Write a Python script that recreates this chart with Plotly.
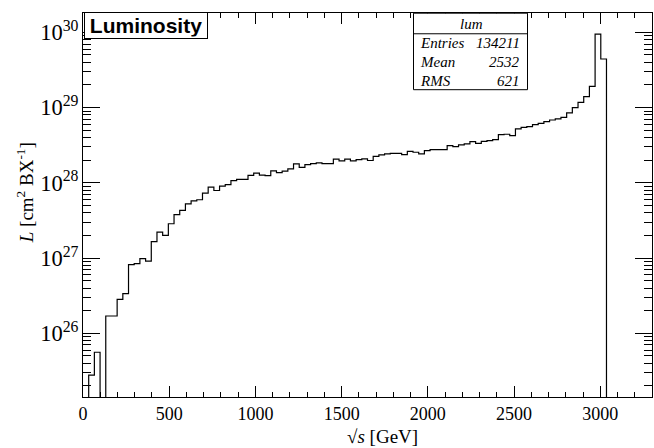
import plotly.graph_objects as go

# Histogram "lum": 100 bins of 33 GeV from 0 to 3300 GeV
bin_width = 33
n_bins = 100
lum_values = [
    0, 2.78e25, 5.61e25, 0, 1.70e26, 1.70e26, 2.83e26, 3.37e26, 8.17e26, 8.43e26,
    9.82e26, 9.12e26, 1.65e27, 2.21e27, 2.00e27, 2.86e27, 3.77e27, 4.30e27, 5.26e27, 5.77e27,
    5.96e27, 7.28e27, 8.75e27, 7.91e27, 9.02e27, 9.44e27, 1.07e28, 1.11e28, 1.11e28, 1.26e28,
    1.35e28, 1.27e28, 1.25e28, 1.44e28, 1.37e28, 1.43e28, 1.53e28, 1.79e28, 1.61e28, 1.75e28,
    1.80e28, 1.84e28, 1.80e28, 1.80e28, 2.06e28, 1.96e28, 2.06e28, 1.96e28, 2.03e28, 2.08e28,
    1.98e28, 2.25e28, 2.35e28, 2.43e28, 2.47e28, 2.47e28, 2.37e28, 2.62e28, 2.55e28, 2.43e28,
    2.68e28, 2.77e28, 2.77e28, 2.77e28, 3.13e28, 3.03e28, 3.19e28, 3.29e28, 3.53e28, 3.35e28,
    3.56e28, 3.64e28, 3.75e28, 4.37e28, 4.42e28, 4.24e28, 5.20e28, 5.46e28, 5.58e28, 5.93e28,
    6.18e28, 6.50e28, 6.84e28, 7.06e28, 7.41e28, 8.51e28, 1.00e29, 1.17e29, 1.40e29, 1.91e29,
    9.46e29, 4.42e29, 0, 0, 0, 0, 0, 0, 0, 0,
]
x_tick_vals = [0, 500, 1000, 1500, 2000, 2500, 3000]
stats_labels = ["Entries", "Mean", "RMS"]
stats_values = ["134211", "2532", "621"]
hist_name = "lum"
title_text = "Luminosity"

# empty bins are drawn down below the visible axis range (log scale)
floor_val = 1e20
edges = [i * bin_width for i in range(n_bins + 1)]
y_plot = [v if v > 0 else floor_val for v in lum_values]
y_plot = y_plot + [y_plot[-1]]

fig = go.Figure()
fig.add_trace(go.Scatter(
    x=edges, y=y_plot, mode="lines", line_shape="hv",
    line=dict(color="black", width=1.2), showlegend=False, hoverinfo="skip",
))

W, H = 654, 448
ml, mr, mt, mb = 83, 2, 12.5, 51
serif = "Liberation Serif"

fig.update_layout(
    width=W, height=H,
    margin=dict(l=ml, r=mr, t=mt, b=mb, pad=0),
    paper_bgcolor="white", plot_bgcolor="white",
    font=dict(family=serif, size=18, color="black"),
    xaxis=dict(
        range=[0, n_bins * bin_width], tickvals=x_tick_vals,
        ticks="inside", ticklen=11, tickwidth=1, tickcolor="black",
        showline=True, linecolor="black", linewidth=1, mirror="ticks",
        showgrid=False, zeroline=False,
        tickfont=dict(family=serif, size=18, color="black"),
        minor=dict(ticks="inside", ticklen=5, dtick=100, tickcolor="black", showgrid=False),
    ),
    yaxis=dict(
        type="log", range=[25.154, 30.257], dtick=1, exponentformat="power",
        ticks="inside", ticklen=17, tickwidth=1, tickcolor="black",
        showline=True, linecolor="black", linewidth=1, mirror="ticks",
        showgrid=False, zeroline=False,
        tickfont=dict(family=serif, size=18, color="black"),
        minor=dict(ticks="inside", ticklen=8, dtick="D1", tickcolor="black", showgrid=False),
    ),
)

pw = W - ml - mr
ph = H - mt - mb

def px_x(x):
    return (x - ml) / pw

def px_y(y):
    return (H - mb - y) / ph

annotations = []
# axis titles
annotations.append(dict(
    text="\u221a<i>s</i> [GeV]", x=px_x(382), y=px_y(437), xref="paper", yref="paper",
    showarrow=False, font=dict(family=serif, size=19, color="black"),
    xanchor="center", yanchor="middle",
))
annotations.append(dict(
    text="<i>L</i> [cm<sup>2</sup> BX<sup>-1</sup>]", x=px_x(25), y=px_y(193),
    xref="paper", yref="paper", showarrow=False, textangle=-90,
    font=dict(family=serif, size=19, color="black"), xanchor="center", yanchor="middle",
))
# title box
annotations.append(dict(
    text="<b>" + title_text + "</b>", x=px_x(145.5), y=px_y(25.5), xref="paper", yref="paper",
    showarrow=False, font=dict(family="Liberation Sans", size=21, color="black"),
    xanchor="center", yanchor="middle", bgcolor="white", bordercolor="black",
    borderwidth=1, width=119, height=22, borderpad=1.5,
))

shapes = []
# stats box
bx0, bx1, by0, by1 = 413.5, 527.5, 12.7, 89.3
shapes.append(dict(type="rect", xref="paper", yref="paper",
                   x0=px_x(bx0), x1=px_x(bx1), y0=px_y(by1), y1=px_y(by0),
                   line=dict(color="black", width=1), fillcolor="white", layer="above"))
shapes.append(dict(type="line", xref="paper", yref="paper",
                   x0=px_x(bx0), x1=px_x(bx1), y0=px_y(33.3), y1=px_y(33.3),
                   line=dict(color="black", width=1), layer="above"))
annotations.append(dict(
    text="<i>" + hist_name + "</i>", x=px_x(471), y=px_y(24), xref="paper", yref="paper",
    showarrow=False, font=dict(family=serif, size=15, color="black"),
    xanchor="center", yanchor="middle",
))
row_y = [43, 61.5, 80.5]
for lab, val, ry in zip(stats_labels, stats_values, row_y):
    annotations.append(dict(
        text="<i>" + lab + "</i>", x=px_x(418), y=px_y(ry), xref="paper", yref="paper",
        showarrow=False, font=dict(family=serif, size=15, color="black"),
        xanchor="left", yanchor="middle",
    ))
    annotations.append(dict(
        text="<i>" + val + "</i>", x=px_x(522), y=px_y(ry), xref="paper", yref="paper",
        showarrow=False, font=dict(family=serif, size=15, color="black"),
        xanchor="right", yanchor="middle",
    ))

fig.update_layout(annotations=annotations, shapes=shapes)
fig.write_html("out.html")
